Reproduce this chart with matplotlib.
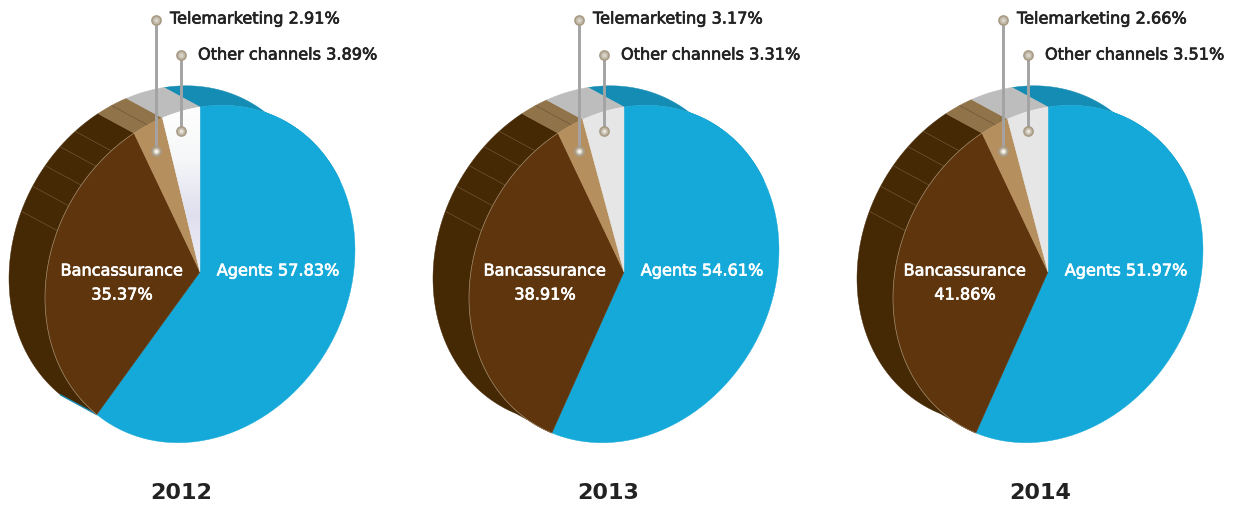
import numpy as np
import matplotlib
matplotlib.use('Agg')
import matplotlib.pyplot as plt
import matplotlib.patheffects as pe
from matplotlib.colors import LinearSegmentedColormap
from matplotlib.patches import Polygon

YEARS = ['2012', '2013', '2014']

# values printed on the labels
AGENTS = [57.83, 54.61, 51.97]
BANCASSURANCE = [35.37, 38.91, 41.86]
TELEMARKETING = [2.91, 3.17, 2.66]
OTHER = [3.89, 3.31, 3.51]

# the slices in the picture are not drawn to the printed values, these are read off the shapes
DRAWN_AGENTS = [61.6, 57.7, 57.7]
DRAWN_BANC = [31.4, 35.3, 35.3]
DRAWN_TELE = [3.1, 2.7, 2.8]
DRAWN_OTHER = [3.9, 4.3, 4.2]

# thin ribs on the side of the pie, in percent round the circle
RIBS = [81.4, 83.9, 86.1, 88.3, 90.3, 94.5]

CENTERS = [200, 624, 1048]
TITLE_X = [181.5, 608, 1040]
BANC_X = [122, 545, 965]
AGENT_X = [278, 702, 1126]
TELE_PIN_X = [155.5, 578.5, 1002.5]
OTHER_PIN_X = [181, 603.5, 1027.5]
TELE_TEXT_X = [170, 593, 1017]
OTHER_TEXT_X = [198, 621, 1045]

BLUE, BLUE_SIDE = '#14A9D9', '#158CB3'
BROWN, BROWN_SIDE = '#5E350D', '#452804'
TAN, TAN_SIDE = '#B58F5E', '#917349'
LIGHT, LIGHT_SIDE = '#E6E6E6', '#BDBDBD'
DARK_TEXT = '#222222'
FONT = 'DejaVu Sans'


def rim(cx, start, end, shift=False):
    # percent round the tilted pie to picture coordinates
    t = np.radians(np.linspace(start, end, 80) * 3.6)
    x = cx + 155 * np.sin(t)
    y = 274 - 24 * np.sin(t) - 167 * np.cos(t)
    if shift:
        x = x - 36
        y = y - 19.5
    return np.column_stack([x, y])


def side(ax, cx, start, end, color):
    pts = np.vstack([rim(cx, start, end), rim(cx, start, end, True)[::-1]])
    ax.add_patch(Polygon(pts, closed=True, fc=color, ec=color, lw=0.3, zorder=2))


def face(ax, cx, start, end, color):
    pts = np.vstack([[[cx, 272]], rim(cx, start, end)])
    patch = Polygon(pts, closed=True, fc=color, ec=color, lw=0.3, zorder=3)
    ax.add_patch(patch)
    return patch


def pin(ax, x, y, center):
    ax.scatter([x], [y], s=60, c='#A69A85', linewidths=0, zorder=6)
    ax.scatter([x], [y], s=30, c='#C2B9A7', linewidths=0, zorder=7)
    ax.scatter([x], [y], s=9, c=center, linewidths=0, zorder=8)


def label(ax, x, y, text, color, ha='left'):
    stroke = [pe.withStroke(linewidth=0.5, foreground=color)]
    ax.text(x, y, text, color=color, fontsize=11.6, family=FONT, ha=ha, va='center',
            path_effects=stroke, zorder=9)


fig = plt.figure(figsize=(12.36, 5.08), dpi=100)
ax = fig.add_axes([0, 0, 1, 1])
ax.set_xlim(0, 1236)
ax.set_ylim(508, 0)
ax.axis('off')

white_cmap = LinearSegmentedColormap.from_list(
    'other2012', ['#FFFFFF', '#F6F7F8', '#DFDFEF', '#EFEFF7'])

for i, cx in enumerate(CENTERS):
    a = DRAWN_AGENTS[i]
    b = a + DRAWN_BANC[i]
    t = b + DRAWN_TELE[i]

    # sides first, the top face covers whatever is hidden
    side(ax, cx, 0, 18, BLUE_SIDE)
    side(ax, cx, a, b, BROWN_SIDE)
    side(ax, cx, b, t, TAN_SIDE)
    side(ax, cx, t, 100, LIGHT_SIDE)

    # only the first pie shows a sliver of blue side at the bottom
    if i == 0:
        front = rim(cx, a, a)[0]
        back = rim(cx, a, a, True)[0]
        ax.plot([front[0], back[0]], [front[1], back[1]], color=BLUE_SIDE, lw=1.0, zorder=2.2)

    for r in RIBS:
        front = rim(cx, r, r)[0]
        back = rim(cx, r, r, True)[0]
        ax.plot([front[0], back[0]], [front[1], back[1]], color='#6E5638', lw=0.5, zorder=2.5)

    face(ax, cx, 0, a, BLUE)
    face(ax, cx, a, b, BROWN)
    face(ax, cx, b, t, TAN)
    other = face(ax, cx, t, 100, LIGHT)
    if i == 0:
        grad = np.linspace(0, 1, 170).reshape(-1, 1)
        img = ax.imshow(grad, cmap=white_cmap, extent=[cx - 45, cx + 1, 272, 102],
                        aspect='auto', zorder=3.5)
        img.set_clip_path(other)
        ax.set_xlim(0, 1236)
        ax.set_ylim(508, 0)

    # light edge round the brown face
    edge = rim(cx, a, b)
    ax.plot(edge[:, 0], edge[:, 1], color='#A08A6A', lw=0.5, zorder=4)

    # leader lines and pins
    ax.plot([TELE_PIN_X[i]] * 2, [20, 151], color='#A3A3A3', lw=2.1, zorder=5)
    ax.plot([OTHER_PIN_X[i]] * 2, [55, 131], color='#A3A3A3', lw=2.1, zorder=5)
    pin(ax, TELE_PIN_X[i], 20, '#D8D3C8')
    pin(ax, TELE_PIN_X[i], 151, '#F4F2EC')
    pin(ax, OTHER_PIN_X[i], 55, '#D8D3C8')
    pin(ax, OTHER_PIN_X[i], 131, '#E6E2D9')

    label(ax, TELE_TEXT_X[i], 19, f'Telemarketing {TELEMARKETING[i]:.2f}%', DARK_TEXT)
    label(ax, OTHER_TEXT_X[i], 55, f'Other channels {OTHER[i]:.2f}%', DARK_TEXT)
    label(ax, AGENT_X[i], 271, f'Agents {AGENTS[i]:.2f}%', 'white', ha='center')
    label(ax, BANC_X[i], 271, 'Bancassurance', 'white', ha='center')
    label(ax, BANC_X[i], 295, f'{BANCASSURANCE[i]:.2f}%', 'white', ha='center')

    ax.text(TITLE_X[i], 493, YEARS[i], color=DARK_TEXT, fontsize=16, family=FONT,
            weight='bold', ha='center', va='center', zorder=9)

fig.savefig('out.png', dpi=100)
